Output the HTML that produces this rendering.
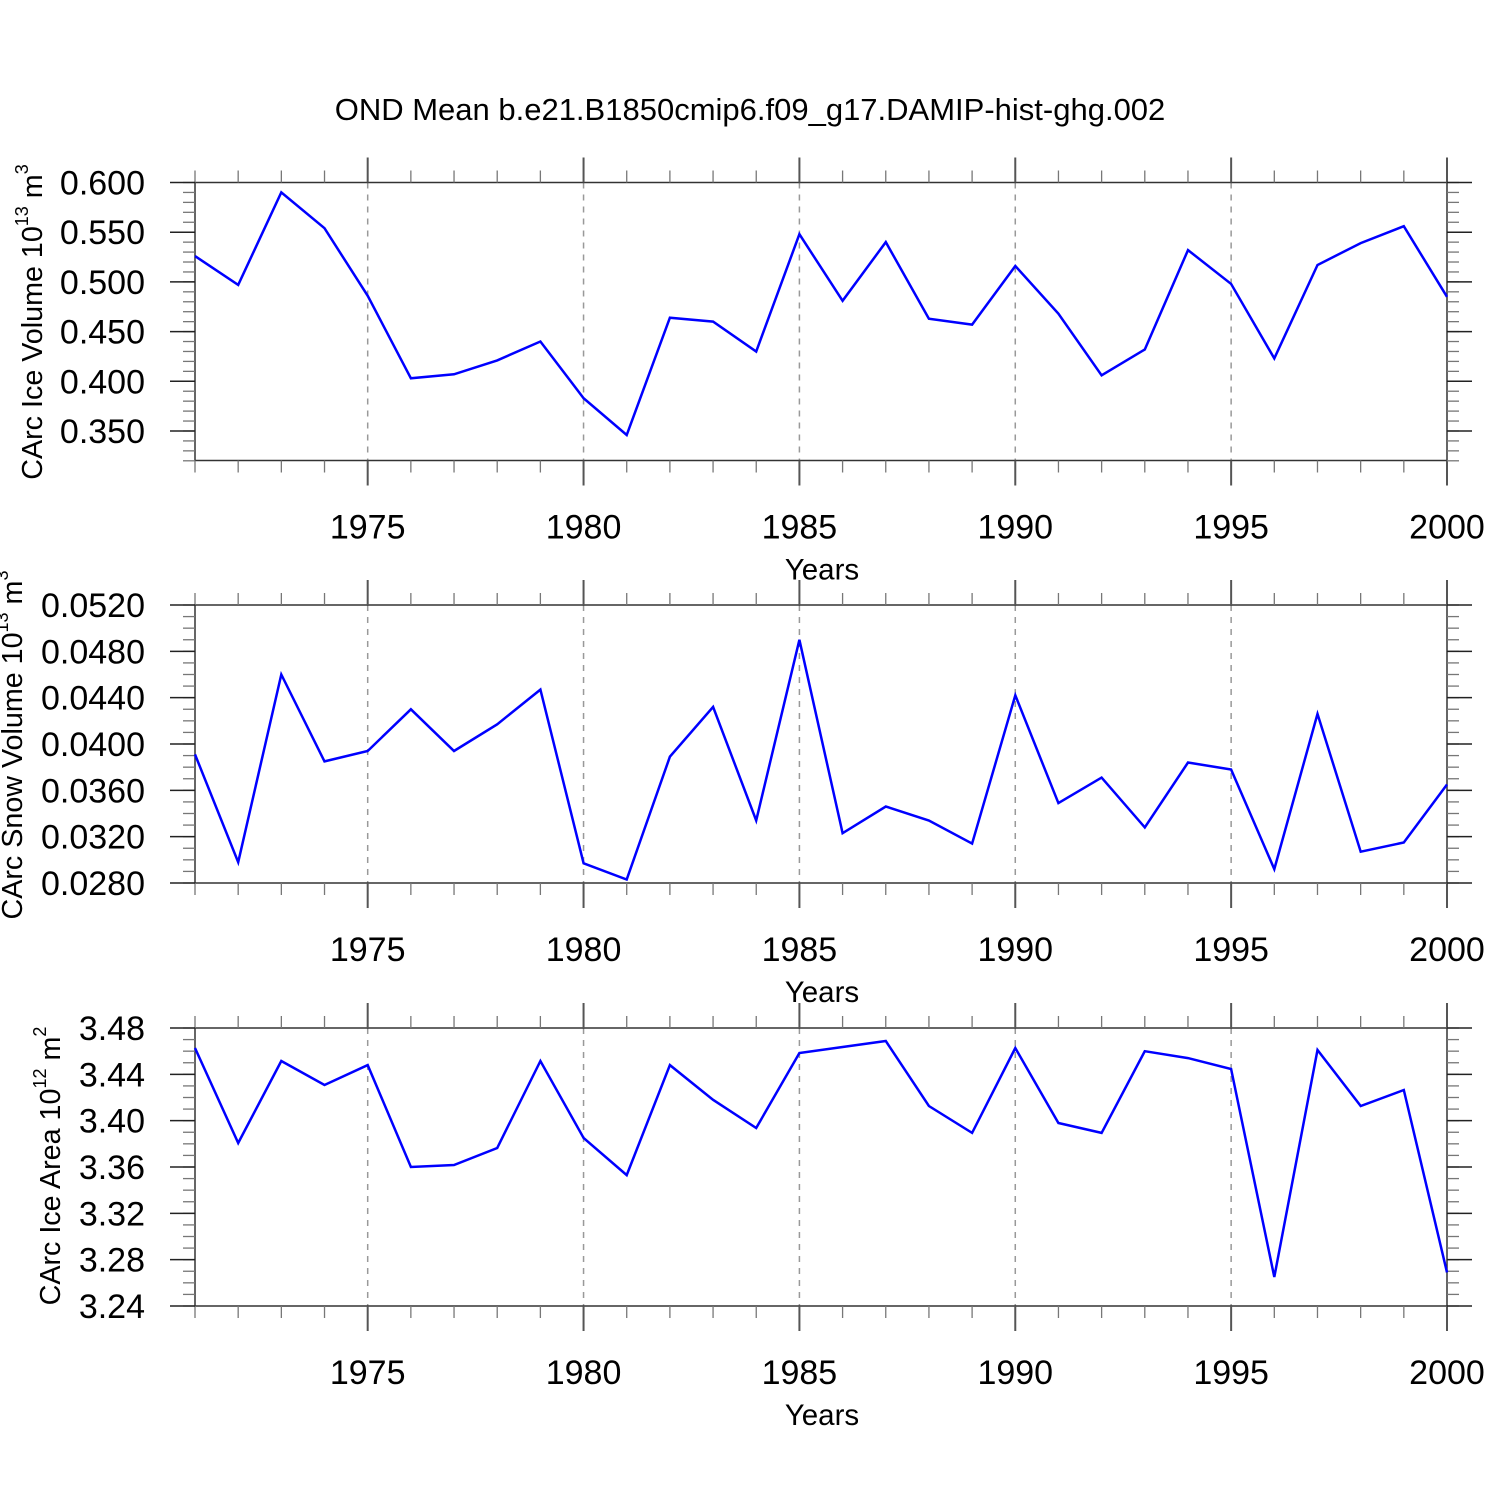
<!DOCTYPE html>
<html><head><meta charset="utf-8"><style>
html,body{margin:0;padding:0;background:#fff;}
svg{display:block;font-family:"Liberation Sans",Arial,sans-serif;}
</style></head><body>
<svg id="chart" width="1500" height="1500" viewBox="0 0 1500 1500" xmlns="http://www.w3.org/2000/svg">
<text x="750" y="120" font-size="31" text-anchor="middle">OND Mean b.e21.B1850cmip6.f09_g17.DAMIP-hist-ghg.002</text>
</svg>
<script>
const years = [1971,1972,1973,1974,1975,1976,1977,1978,1979,1980,1981,1982,1983,1984,1985,1986,1987,1988,1989,1990,1991,1992,1993,1994,1995,1996,1997,1998,1999,2000];
const iceVolume = [0.526,0.497,0.590,0.554,0.486,0.403,0.407,0.421,0.440,0.383,0.346,0.464,0.460,0.430,0.548,0.481,0.540,0.463,0.457,0.516,0.468,0.406,0.432,0.532,0.498,0.423,0.517,0.539,0.556,0.485];
const snowVolume = [0.0391,0.0298,0.0460,0.0385,0.0394,0.0430,0.0394,0.0417,0.0447,0.0297,0.0283,0.0389,0.0432,0.0334,0.0490,0.0323,0.0346,0.0334,0.0314,0.0442,0.0349,0.0371,0.0328,0.0384,0.0378,0.0292,0.0426,0.0307,0.0315,0.0365];
const iceArea = [3.4627,3.3807,3.4515,3.4308,3.448,3.360,3.3617,3.3764,3.4515,3.385,3.353,3.448,3.418,3.3937,3.4584,3.4636,3.4688,3.4127,3.3894,3.4627,3.398,3.3894,3.460,3.454,3.4446,3.265,3.461,3.4127,3.4265,3.269];
const xTickLabels = [1975,1980,1985,1990,1995,2000];
const iceVolTicks = ["0.600","0.550","0.500","0.450","0.400","0.350"];
const snowTicks = ["0.0520","0.0480","0.0440","0.0400","0.0360","0.0320","0.0280"];
const areaTicks = ["3.48","3.44","3.40","3.36","3.32","3.28","3.24"];

const NS="http://www.w3.org/2000/svg";
const svg=document.getElementById('chart');
function mk(tag,attrs,parent){const e=document.createElementNS(NS,tag);for(const k in attrs)e.setAttribute(k,attrs[k]);(parent||svg).appendChild(e);return e;}
const X0=195,X1=1447,XMIN=1971,XMAX=2000;
function xs(v){return X0+(v-XMIN)/(XMAX-XMIN)*(X1-X0);}

const panels=[
 {name:'ice-volume',top:182.5,bot:460.5,ymin:0.3203,ymax:0.600,data:iceVolume,ticks:iceVolTicks,minor:0.01,label:['CArc Ice Volume 10','13',' m','3'],lx:42,ly:322},
 {name:'snow-volume',top:605,bot:883,ymin:0.028,ymax:0.052,data:snowVolume,ticks:snowTicks,minor:0.001,label:['CArc Snow Volume 10','13',' m','3'],lx:22,ly:745},
 {name:'ice-area',top:1028,bot:1306,ymin:3.24,ymax:3.48,data:iceArea,ticks:areaTicks,minor:0.01,label:['CArc Ice Area 10','12',' m','2'],lx:60,ly:1166}
];
panels.forEach(p=>{
 const g=mk('g',{});
 
 
 const ys=v=>p.top+(p.ymax-v)/(p.ymax-p.ymin)*(p.bot-p.top);
 xTickLabels.forEach(t=>{
  if(t===XMAX)return;
  const l=mk('line',{x1:xs(t),x2:xs(t),y1:p.top,y2:p.bot,stroke:'#999','stroke-width':1.5,'stroke-dasharray':'6,6'},g);
  
  
 });
 const fr=mk('rect',{x:X0,y:p.top,width:X1-X0,height:p.bot-p.top,fill:'none',stroke:'#333','stroke-width':1.5},g);
 
 
 for(let yr=XMIN;yr<=XMAX;yr++){
  const maj=xTickLabels.includes(yr);const L=maj?25:12;const x=xs(yr);
  mk('line',{x1:x,x2:x,y1:p.top,y2:p.top-L,stroke:maj?'#555':'#777','stroke-width':maj?2:1.3},g);
  mk('line',{x1:x,x2:x,y1:p.bot,y2:p.bot+L,stroke:maj?'#555':'#777','stroke-width':maj?2:1.3},g);
 }
 const n=Math.round((p.ymax-p.ymin)/p.minor);
 for(let i=0;i<=n;i++){const v=p.ymax-i*p.minor;const y=ys(v);if(y>p.bot+0.5)break;
  mk('line',{x1:X0,x2:X0-12,y1:y,y2:y,stroke:'#777','stroke-width':1.3},g);
  mk('line',{x1:X1,x2:X1+12,y1:y,y2:y,stroke:'#777','stroke-width':1.3},g);
 }
 p.ticks.forEach(t=>{const y=ys(parseFloat(t));
  mk('line',{x1:X0,x2:X0-25,y1:y,y2:y,stroke:'#222','stroke-width':1.5},g);
  mk('line',{x1:X1,x2:X1+25,y1:y,y2:y,stroke:'#222','stroke-width':1.5},g);
  const tx=mk('text',{x:145,y:y+12,'font-size':34,'text-anchor':'end'},g);tx.textContent=t;
  
  
 });
 xTickLabels.forEach(t=>{
  const tx=mk('text',{x:xs(t),y:p.bot+78,'font-size':34,'text-anchor':'middle'},g);tx.textContent=t;
  
  
 });
 const xt=mk('text',{x:822,y:p.bot+119,'font-size':29.5,'text-anchor':'middle'},g);xt.textContent='Years';
 
 
 const yl=mk('text',{x:0,y:0,'font-size':28.7,'text-anchor':'middle',transform:`translate(${p.lx},${p.ly}) rotate(-90)`},g);
 
 
 [[p.label[0],0],[p.label[1],1],[p.label[2],0],[p.label[3],1]].forEach(([s,sup])=>{
  const ts=mk('tspan',sup?{'font-size':18,dy:-14}:{dy:0},yl);ts.textContent=s;
 });
 const tsp=yl.querySelectorAll('tspan');tsp[2].setAttribute('dy',14);
 const pts=p.data.map((v,i)=>xs(years[i]).toFixed(1)+','+ys(v).toFixed(1)).join(' ');
 const pl=mk('polyline',{points:pts,fill:'none',stroke:'#0000ff','stroke-width':2.5,'stroke-linejoin':'miter'},g);
 
 
});
</script>
</body></html>
